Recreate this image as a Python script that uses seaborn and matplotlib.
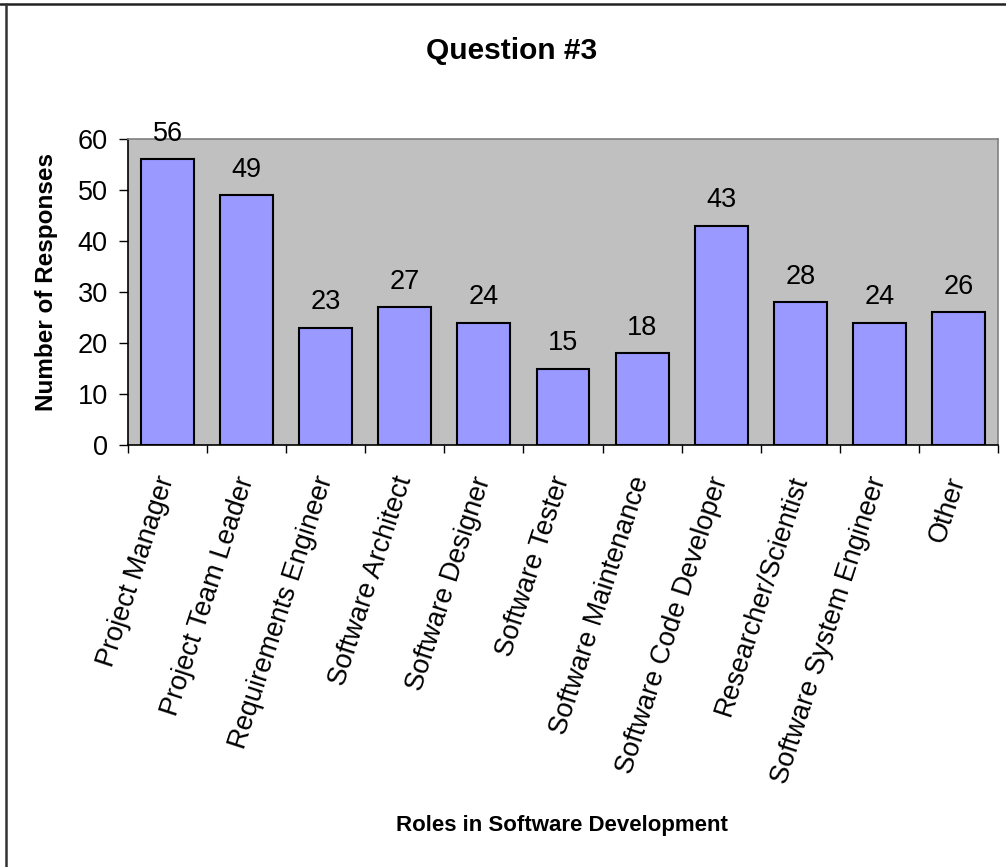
import matplotlib
matplotlib.use("Agg")
import matplotlib.pyplot as plt
import seaborn as sns
import pandas as pd
from matplotlib.lines import Line2D

categories = ["Project Manager", "Project Team Leader", "Requirements Engineer",
              "Software Architect", "Software Designer", "Software Tester",
              "Software Maintenance", "Software Code Developer", "Researcher/Scientist",
              "Software System Engineer", "Other"]
values = [56, 49, 23, 27, 24, 15, 18, 43, 28, 24, 26]
yticks = [0, 10, 20, 30, 40, 50, 60]

sns.set_theme(style="white")
plt.rcParams['font.family'] = ['Liberation Sans', 'DejaVu Sans']
plt.rcParams['text.color'] = 'black'
plt.rcParams['axes.labelcolor'] = 'black'
plt.rcParams['xtick.color'] = 'black'
plt.rcParams['ytick.color'] = 'black'

df = pd.DataFrame({"role": categories, "count": values})

fig = plt.figure(figsize=(10.06, 8.67), dpi=100)
W, H = 1006, 867
ax = fig.add_axes([128 / W, 1 - 445 / H, (998 - 128) / W, (445 - 139) / H])
ax.set_facecolor("#C0C0C0")

sns.barplot(data=df, x="role", y="count", color="#9999FF", edgecolor="black",
            linewidth=1.5, width=0.67, saturation=1, ax=ax)

ax.set_ylim(0, 60)
ax.set_xlim(-0.5, len(categories) - 0.5)
ax.set_yticks(yticks)
ax.tick_params(axis="y", which="major", direction="out", length=6.5, width=1,
               color="black", labelsize=19.5, pad=8, left=True)

ax.set_xticks(range(len(categories)))
ax.set_xticklabels(categories, rotation=72, ha="right", va="center",
                   rotation_mode="anchor", fontsize=19.5)
ax.tick_params(axis="x", which="major", length=0, pad=23)
ax.set_xticks([i - 0.5 for i in range(len(categories) + 1)], minor=True)
ax.tick_params(axis="x", which="minor", direction="out", length=6, width=1,
               color="black", bottom=True)

for c in ax.containers:
    ax.bar_label(c, labels=[str(v) for v in values], padding=9, fontsize=19.5)

for s in ["left", "bottom"]:
    ax.spines[s].set_color("black")
    ax.spines[s].set_linewidth(1.2)
for s in ["top", "right"]:
    ax.spines[s].set_color("#808080")
    ax.spines[s].set_linewidth(1.2)
for s in ax.spines.values():
    s.set_visible(True)

ax.set_ylabel("")
ax.set_xlabel("")
fig.text(47 / W, 1 - 282 / H, "Number of Responses", fontsize=17.5, fontweight="bold",
         rotation=90, ha="center", va="center")
fig.text(562 / W, 1 - 825 / H, "Roles in Software Development", fontsize=16,
         fontweight="bold", ha="center", va="center")
fig.text(512 / W, 1 - 51 / H, "Question #3", fontsize=21.5, fontweight="bold",
         ha="center", va="center")

fig.add_artist(Line2D([0, 1], [1 - 4 / H, 1 - 4 / H], transform=fig.transFigure,
                      color="#222222", linewidth=1.8))
fig.add_artist(Line2D([6 / W, 6 / W], [0, 1 - 4 / H], transform=fig.transFigure,
                      color="#333333", linewidth=1.8))

fig.savefig("out.png", dpi=100)
